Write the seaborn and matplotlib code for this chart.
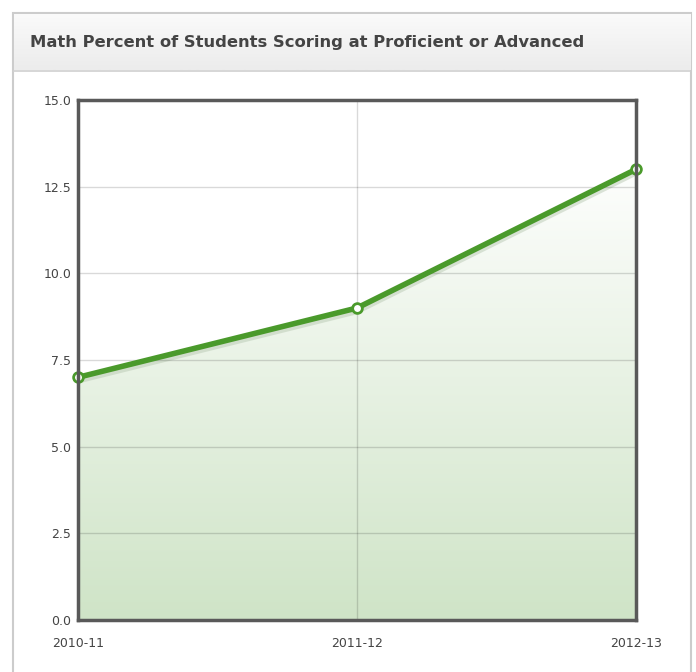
import numpy as np
import pandas as pd
import matplotlib
matplotlib.use("Agg")
import matplotlib.pyplot as plt
import seaborn as sns
from matplotlib.patches import Rectangle
from matplotlib.colors import LinearSegmentedColormap

years = ["2010-11", "2011-12", "2012-13"]
values = [7.0, 9.0, 13.0]
yticks = [0.0, 2.5, 5.0, 7.5, 10.0, 12.5, 15.0]
title = "Math Percent of Students Scoring at Proficient or Advanced"

sns.set_style("white")
plt.rcParams['font.family'] = ['DejaVu Sans']

W, H = 696, 672
fig = plt.figure(figsize=(W / 100, H / 100), dpi=100)
fig.patch.set_facecolor("white")

def fx(px):
    return px / W

def fy(py):
    return 1 - py / H

# panel border
fig.patches.append(Rectangle((fx(12.5), fy(700)), fx(690.5) - fx(12.5), fy(12.5) - fy(700),
                             transform=fig.transFigure, facecolor="white", edgecolor="#cccccc",
                             lw=1.5, zorder=0))
# header gradient
hdr = fig.add_axes([fx(13.5), fy(70), fx(690) - fx(13.5), fy(13.5) - fy(70)], zorder=1)
grad = np.linspace(0, 1, 50).reshape(-1, 1)
hdr.imshow(grad, aspect="auto", cmap=LinearSegmentedColormap.from_list("h", ["#fafafa", "#ececec"]),
           extent=[0, 1, 0, 1], origin="upper")
hdr.set_axis_off()
fig.add_artist(plt.Line2D([fx(13), fx(690)], [fy(70.5), fy(70.5)], transform=fig.transFigure,
                          color="#d0d0d0", lw=1.2, zorder=2))
fig.text(fx(30), fy(43), title, fontsize=11.8, fontweight="bold", color="#444444",
         va="center", ha="left", zorder=3)

ax = fig.add_axes([fx(78), fy(620), fx(636) - fx(78), fy(100) - fy(620)], zorder=2)
df = pd.DataFrame({"x": np.arange(len(years)), "y": values})

ax.set_xlim(0, len(years) - 1)
ax.set_ylim(0, 15)

# gradient fill under the line
poly = ax.fill_between(df["x"], df["y"], 0, color="none", lw=0)
cmap = LinearSegmentedColormap.from_list("g", ["#ffffff", "#cfe4c7"])
img = ax.imshow(np.linspace(0, 1, 256).reshape(-1, 1), aspect="auto", cmap=cmap,
                extent=[0, len(years) - 1, 0, 13.5], origin="upper", zorder=1)
img.set_clip_path(poly.get_paths()[0], transform=ax.transData)
ax.set_xlim(0, len(years) - 1)
ax.set_ylim(0, 15)

# subtle shadow line
ax.plot(df["x"], df["y"] - 0.12, color="#b9c9b3", lw=3, alpha=0.5, zorder=2)
sns.lineplot(data=df, x="x", y="y", ax=ax, color="#4a9a2b", lw=4, zorder=3,
             marker="o", markersize=7, markerfacecolor="white", markeredgecolor="#4a9a2b",
             markeredgewidth=2, clip_on=False)

ax.set_yticks(yticks)
ax.set_yticklabels([f"{v:.1f}" for v in yticks])
ax.set_xticks(np.arange(len(years)))
ax.set_xticklabels(years)
ax.tick_params(axis="both", length=0, labelsize=9, colors="#444444")
ax.tick_params(axis="y", pad=5)
ax.tick_params(axis="x", pad=12)
ax.grid(True, color="#000000", alpha=0.15, lw=1)
ax.set_axisbelow(False)
for gl in ax.get_xgridlines() + ax.get_ygridlines():
    gl.set_zorder(2.5)
ax.set_xlabel("")
ax.set_ylabel("")
for s in ax.spines.values():
    s.set_color("#595959")
    s.set_linewidth(2.5)
    s.set_zorder(4)

fig.savefig("out.png", dpi=100)
